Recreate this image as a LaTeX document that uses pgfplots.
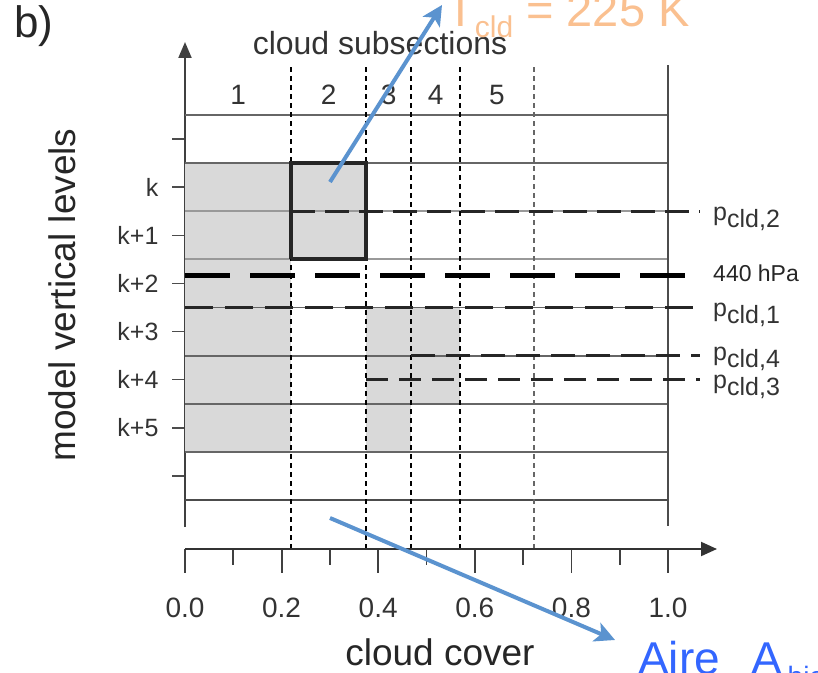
\documentclass[border=0pt]{standalone}
\usepackage{pgfplots}
\pgfplotsset{compat=1.18}
\usepackage{fontspec}
\setmainfont{Liberation Sans}
\usetikzlibrary{arrows.meta}
\definecolor{boxgray}{RGB}{217,217,217}
\definecolor{tcol}{RGB}{250,192,144}
\definecolor{acol}{RGB}{91,147,207}
\definecolor{bcol}{RGB}{51,102,255}
\newcommand{\fs}[1]{\fontsize{#1}{#1}\selectfont}
\newcommand{\pc}[1]{p\raisebox{-7pt}{cld,#1}}
\begin{document}
\begin{tikzpicture}[x=1pt,y=1pt]
\useasboundingbox (0,0) rectangle (818,672);
\clip (0,0) rectangle (818,672);
\begin{axis}[at={(185pt,145pt)}, anchor=south west, scale only axis,
  width=483pt, height=485pt, xmin=0, xmax=1, ymin=-0.5610, ymax=9.5169,
  clip=false, axis x line=none, axis y line=left,
  y axis line style={line width=2pt, black!75, -{Triangle[width=13pt,length=16pt]}},
  ytick={0.5,1.5,2.5,3.5,4.5,5.5,6.5,7.5},
  yticklabels={,k+5,k+4,k+3,k+2,k+1,k,},
  tick align=outside, major tick length=13pt,
  ytick style={line width=1.5pt, black!70},
  yticklabel style={font=\fs{25}, text=black!80, xshift=-10pt},
  ylabel={model vertical levels},
  ylabel style={font=\fs{37}, text=black!85, at={(axis description cs:-0.2257,0.4784)}, anchor=base}]
% cloudy areas
\addplot[fill=boxgray, draw=none] coordinates {(0,1) (0.22,1) (0.22,7) (0,7)};
\addplot[fill=boxgray, draw=none] coordinates {(0.22,5) (0.375,5) (0.375,7) (0.22,7)};
\addplot[fill=boxgray, draw=none] coordinates {(0.375,1) (0.468,1) (0.468,4) (0.375,4)};
\addplot[fill=boxgray, draw=none] coordinates {(0.468,2) (0.57,2) (0.57,4) (0.468,4)};
% level boundaries
\addplot[black!70, line width=2pt] coordinates {(0,0) (1,0)};
\addplot[black!60, line width=1.8pt] coordinates {(0,1) (1,1)};
\addplot[black!60, line width=1.8pt] coordinates {(0,2) (1,2)};
\addplot[black!60, line width=1.8pt] coordinates {(0,3) (1,3)};
\addplot[black!60, line width=1.8pt] coordinates {(0,4) (1,4)};
\addplot[black!40, line width=1.8pt] coordinates {(0,5) (1,5)};
\addplot[black!40, line width=1.8pt] coordinates {(0,6) (1,6)};
\addplot[black!60, line width=1.8pt] coordinates {(0,7) (1,7)};
\addplot[black!60, line width=1.8pt] coordinates {(0,8) (1,8)};
\addplot[black!70, line width=2pt] coordinates {(1,-0.54) (1,9.04)};
% subsection boundaries
\addplot[black, line width=2pt, dash pattern=on 5pt off 4pt] coordinates {(0.22,-1.018) (0.22,9.04)};
\addplot[black, line width=2pt, dash pattern=on 5pt off 4pt] coordinates {(0.375,-1.018) (0.375,9.04)};
\addplot[black, line width=2pt, dash pattern=on 5pt off 4pt] coordinates {(0.468,-1.018) (0.468,9.04)};
\addplot[black, line width=2pt, dash pattern=on 5pt off 4pt] coordinates {(0.57,-1.018) (0.57,9.04)};
\addplot[black!60, line width=2pt, dash pattern=on 5pt off 4pt] coordinates {(0.722,-1.018) (0.722,9.04)};
% pressure levels
\addplot[black!85, line width=3pt, dash pattern=on 24pt off 10pt] coordinates {(0.22,6) (1.066,6)};
\addplot[black, line width=5pt, dash pattern=on 45pt off 20pt] coordinates {(0,4.655) (1.066,4.655)};
\addplot[black!85, line width=3pt, dash pattern=on 28pt off 12pt] coordinates {(0,4) (1.066,4)};
\addplot[black!85, line width=3pt, dash pattern=on 24pt off 11pt] coordinates {(0.468,3) (1.066,3)};
\addplot[black!85, line width=3pt, dash pattern=on 22pt off 11pt] coordinates {(0.375,2.5) (1.066,2.5)};
% highlighted subsection
\addplot[black!85, line width=4pt] coordinates {(0.22,5) (0.375,5) (0.375,7) (0.22,7) (0.22,5)};
% labels
\node[anchor=base, font=\fs{28}, text=black!80] at (axis cs:0.11,8.208) {1};
\node[anchor=base, font=\fs{28}, text=black!80] at (axis cs:0.2975,8.208) {2};
\node[anchor=base, font=\fs{28}, text=black!80] at (axis cs:0.4215,8.208) {3};
\node[anchor=base, font=\fs{28}, text=black!80] at (axis cs:0.519,8.208) {4};
\node[anchor=base, font=\fs{28}, text=black!80] at (axis cs:0.646,8.208) {5};
\node[anchor=base, font=\fs{32}, text=black!80] at (axis cs:0.4037,9.247) {cloud subsections};
\node[anchor=base west, inner sep=0pt, font=\fs{25}, text=black!80] at (axis cs:1.0932,5.818) {\pc{2}};
\node[anchor=base west, inner sep=0pt, font=\fs{23}, text=black!85] at (axis cs:1.0932,4.530) {440 hPa};
\node[anchor=base west, inner sep=0pt, font=\fs{25}, text=black!80] at (axis cs:1.0932,3.803) {\pc{1}};
\node[anchor=base west, inner sep=0pt, font=\fs{25}, text=black!80] at (axis cs:1.0932,2.909) {\pc{4}};
\node[anchor=base west, inner sep=0pt, font=\fs{25}, text=black!80] at (axis cs:1.0932,2.327) {\pc{3}};
\end{axis}
\begin{axis}[at={(185pt,123pt)}, anchor=south west, scale only axis,
  width=532pt, height=1pt, xmin=0, xmax=1.10145, ymin=0, ymax=1,
  axis y line=none, axis x line=bottom,
  x axis line style={line width=2pt, black!80, -{Triangle[width=14pt,length=16pt]}},
  xtick={0,0.2,0.4,0.6,0.8,1}, xticklabels={0.0,0.2,0.4,0.6,0.8,1.0},
  minor xtick={0.1,0.3,0.5,0.7,0.9},
  tick align=outside, major tick length=24pt, minor tick length=16pt,
  xtick style={line width=1.8pt, black!75},
  xticklabel style={font=\fs{28}, text=black!80, yshift=-21pt},
  xlabel={cloud cover},
  xlabel style={font=\fs{37}, text=black!85, at={(axis description cs:0.4793,0)}, anchor=base, yshift=-116pt}]
\addplot[draw=none] coordinates {(0,0) (1,0)};
\end{axis}
\node[anchor=base west, inner sep=0pt, font=\fs{44}, text=black!85] at (14,634) {b)};
\draw[acol, line width=4pt, -{Stealth[length=20pt,width=20pt,inset=5pt]}] (330,490) -- (442,667);
\draw[acol, line width=4pt, -{Stealth[length=20pt,width=20pt,inset=5pt]}] (330,154) -- (615,32);
\node[anchor=base west, inner sep=0pt, text=tcol] at (446,645) {\fs{47}T\raisebox{-11pt}{\fs{30}cld} = 225 K};
\node[anchor=base west, inner sep=0pt, text=bcol] at (638,-2) {\fs{46}Aire\hspace{32pt}A\hspace{5pt}\raisebox{-12pt}{\fs{28}bio}};
\end{tikzpicture}
\end{document}
